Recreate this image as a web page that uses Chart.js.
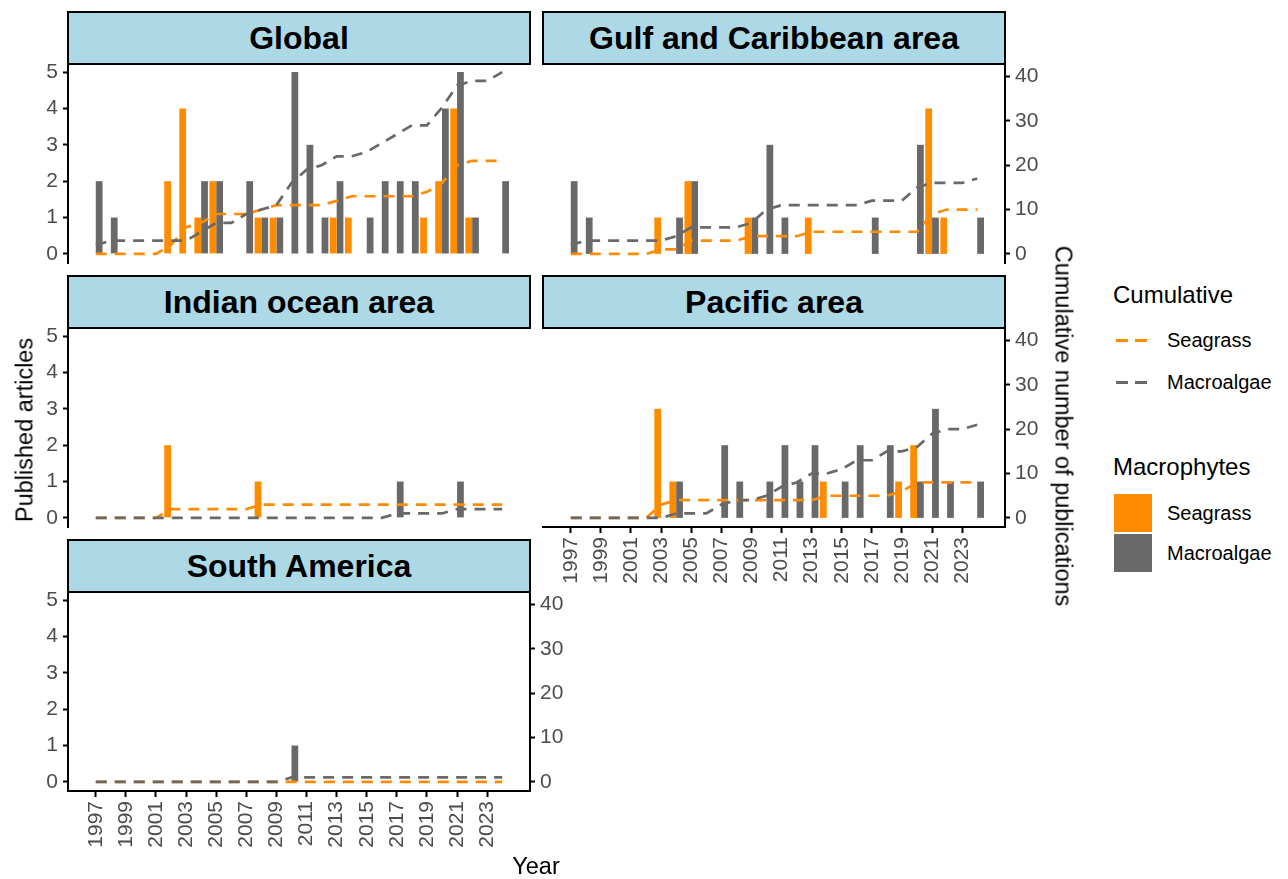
<!DOCTYPE html>
<html>
<head>
<meta charset="utf-8">
<script src="https://cdn.jsdelivr.net/npm/chart.js@4/dist/chart.umd.min.js"></script>
<style>
  body { margin: 0; background: #fff; font-family: 'Liberation Sans', Arial, sans-serif; }
  #page { position: relative; width: 1288px; height: 879px; overflow: hidden; }
  .strip { position: absolute; box-sizing: border-box; background: #ADD8E6; border: 2px solid #000;
           font-weight: bold; font-size: 32px; color: #000; display: flex; align-items: center; justify-content: center; }
  .panel { position: absolute; }
  .title { position: absolute; font-size: 23.5px; color: #000; white-space: nowrap; }
  .lgTitle { position: absolute; font-size: 24px; color: #000; white-space: nowrap; }
  .lgLabel { position: absolute; font-size: 20px; color: #000; white-space: nowrap; transform: translateY(-50%); }
  .dash { position: absolute; height: 2.5px; width: 12px; }
  .box { position: absolute; width: 38px; height: 38px; }
</style>
</head>
<body>
<div id="page"></div>
<script>
const years = [1997, 1998, 1999, 2000, 2001, 2002, 2003, 2004, 2005, 2006, 2007, 2008, 2009, 2010,
               2011, 2012, 2013, 2014, 2015, 2016, 2017, 2018, 2019, 2020, 2021, 2022, 2023, 2024];
const yearTicks = [1997, 1999, 2001, 2003, 2005, 2007, 2009, 2011, 2013, 2015, 2017, 2019, 2021, 2023];
const countTicks = [0, 1, 2, 3, 4, 5];
const cumTicks = [0, 10, 20, 30, 40];

// yearly article counts, 1997..2024
const globalSea = [0,0,0,0,0,2,4,1,2,0,0,1,1,0,0,0,1,1,0,0,0,0,1,2,4,1,0,0];
const globalMac = [2,1,0,0,0,0,0,2,2,0,2,1,1,5,3,1,2,0,1,2,2,2,0,4,5,1,0,2];
const gulfSea   = [0,0,0,0,0,0,1,0,2,0,0,0,1,0,0,0,1,0,0,0,0,0,0,0,4,1,0,0];
const gulfMac   = [2,1,0,0,0,0,0,1,2,0,0,0,1,3,1,0,0,0,0,0,1,0,0,3,1,0,0,1];
const indianSea = [0,0,0,0,0,2,0,0,0,0,0,1,0,0,0,0,0,0,0,0,0,0,0,0,0,0,0,0];
const indianMac = [0,0,0,0,0,0,0,0,0,0,0,0,0,0,0,0,0,0,0,0,1,0,0,0,1,0,0,0];
const pacificSea = [0,0,0,0,0,0,3,1,0,0,0,0,0,0,0,0,0,1,0,0,0,0,1,2,0,0,0,0];
const pacificMac = [0,0,0,0,0,0,0,1,0,0,2,1,0,1,2,1,2,0,1,2,0,2,0,1,3,1,0,1];
const samSea    = [0,0,0,0,0,0,0,0,0,0,0,0,0,0,0,0,0,0,0,0,0,0,0,0,0,0,0,0];
const samMac    = [0,0,0,0,0,0,0,0,0,0,0,0,0,1,0,0,0,0,0,0,0,0,0,0,0,0,0,0];

// cumulative number of publications, 1997..2024
const globalCumSea = [0,0,0,0,0,2,6,7,9,9,9,10,11,11,11,11,12,13,13,13,13,13,14,16,20,21,21,21];
const globalCumMac = [2,3,3,3,3,3,3,5,7,7,9,10,11,16,19,20,22,22,23,25,27,29,29,33,38,39,39,41];
const gulfCumSea   = [0,0,0,0,0,0,1,1,3,3,3,3,4,4,4,4,5,5,5,5,5,5,5,5,9,10,10,10];
const gulfCumMac   = [2,3,3,3,3,3,3,4,6,6,6,6,7,10,11,11,11,11,11,11,12,12,12,15,16,16,16,17];
const indianCumSea = [0,0,0,0,0,2,2,2,2,2,2,3,3,3,3,3,3,3,3,3,3,3,3,3,3,3,3,3];
const indianCumMac = [0,0,0,0,0,0,0,0,0,0,0,0,0,0,0,0,0,0,0,0,1,1,1,1,2,2,2,2];
const pacificCumSea = [0,0,0,0,0,0,3,4,4,4,4,4,4,4,4,4,4,5,5,5,5,5,6,8,8,8,8,8];
const pacificCumMac = [0,0,0,0,0,0,0,1,1,1,3,4,4,5,7,8,10,10,11,13,13,15,15,16,19,20,20,21];
const samCumSea    = [0,0,0,0,0,0,0,0,0,0,0,0,0,0,0,0,0,0,0,0,0,0,0,0,0,0,0,0];
const samCumMac    = [0,0,0,0,0,0,0,0,0,0,0,0,0,1,1,1,1,1,1,1,1,1,1,1,1,1,1,1];

const SEA = '#FF8C00';
const MAC = '#696969';
const FONT = "'Liberation Sans', Arial, sans-serif";
const TICK_GREY = '#4D4D4D';

Chart.defaults.font.family = FONT;
Chart.defaults.font.size = 21;

const page = document.getElementById('page');

function addDiv(cls, style, text) {
  const d = document.createElement('div');
  d.className = cls;
  Object.assign(d.style, style);
  if (text) d.textContent = text;
  page.appendChild(d);
  return d;
}

function pts(arr) {
  return years.map((yr, i) => ({ x: yr, y: arr[i] }));
}

// keep the plot area exactly where ggplot put it: no label padding
function noPad(s) {
  s.paddingTop = 0; s.paddingBottom = 0; s.paddingLeft = 0; s.paddingRight = 0;
}

function panel(name, left, top, sea, mac, cumSea, cumMac, showLeft, showRight, showBottom) {
  addDiv('strip', { left: (left - 1) + 'px', top: (top - 52) + 'px', width: '464px', height: '54px' }, name);

  const wrap = addDiv('panel', {
    left: (left - 60) + 'px', top: (top - 8) + 'px',
    width: '582px', height: (208 + (showBottom ? 85 : 8)) + 'px'
  });
  const cv = document.createElement('canvas');
  wrap.appendChild(cv);

  const tickFont = { family: FONT, size: 21 };

  new Chart(cv, {
    type: 'bar',
    data: {
      datasets: [
        { label: 'Seagrass', data: pts(sea), backgroundColor: SEA, yAxisID: 'y',
          barPercentage: 1, categoryPercentage: 0.9, order: 3 },
        { label: 'Macroalgae', data: pts(mac), backgroundColor: MAC, yAxisID: 'y',
          barPercentage: 1, categoryPercentage: 0.9, order: 3 },
        { type: 'line', label: 'Cumulative Seagrass', data: pts(cumSea), yAxisID: 'y1',
          borderColor: SEA, borderWidth: 2.7, borderDash: [11, 8], pointRadius: 0, tension: 0, order: 2 },
        { type: 'line', label: 'Cumulative Macroalgae', data: pts(cumMac), yAxisID: 'y1',
          borderColor: MAC, borderWidth: 2.7, borderDash: [11, 8], pointRadius: 0, tension: 0, order: 1 },
      ],
    },
    options: {
      responsive: true,
      maintainAspectRatio: false,
      animation: false,
      layout: { padding: { top: 8, left: 0, right: 0, bottom: 0 } },
      plugins: { legend: { display: false }, tooltip: { enabled: false } },
      scales: {
        x: {
          type: 'linear',
          offset: false,
          min: 1995.155,
          max: 2025.845,
          afterBuildTicks: (s) => { s.ticks = yearTicks.map(v => ({ value: v })); },
          afterFit: (s) => { s.height = showBottom ? 85 : 8; noPad(s); },
          border: { display: showBottom, color: '#000', width: 2 },
          grid: { display: showBottom, offset: false, drawOnChartArea: false, drawTicks: true,
                  tickLength: 6, tickWidth: 2, tickColor: '#000' },
          ticks: { display: showBottom, autoSkip: false, minRotation: 90, maxRotation: 90, padding: 4,
                   color: TICK_GREY, font: tickFont, callback: (v) => String(v) },
        },
        y: {
          type: 'linear',
          position: 'left',
          min: -0.25,
          max: 5.25,
          afterBuildTicks: (s) => { s.ticks = countTicks.map(v => ({ value: v })); },
          afterFit: (s) => { s.width = 60; noPad(s); },
          border: { display: showLeft, color: '#000', width: 2 },
          grid: { display: showLeft, drawOnChartArea: false, drawTicks: true, tickLength: 5, tickWidth: 2, tickColor: '#000' },
          ticks: { display: showLeft, padding: 5, color: TICK_GREY, font: tickFont },
        },
        y1: {
          type: 'linear',
          position: 'right',
          min: -2.05,
          max: 43.05,
          afterBuildTicks: (s) => { s.ticks = cumTicks.map(v => ({ value: v })); },
          afterFit: (s) => { s.width = 60; noPad(s); },
          border: { display: showRight, color: '#000', width: 2 },
          grid: { display: showRight, drawOnChartArea: false, drawTicks: true, tickLength: 5, tickWidth: 2, tickColor: '#000' },
          ticks: { display: showRight, padding: 5, color: TICK_GREY, font: tickFont },
        },
      },
    },
  });
}

panel('Global', 68, 63, globalSea, globalMac, globalCumSea, globalCumMac, true, false, false);
panel('Gulf and Caribbean area', 543, 63, gulfSea, gulfMac, gulfCumSea, gulfCumMac, false, true, false);
panel('Indian ocean area', 68, 327, indianSea, indianMac, indianCumSea, indianCumMac, true, false, false);
panel('Pacific area', 543, 327, pacificSea, pacificMac, pacificCumSea, pacificCumMac, false, true, true);
panel('South America', 68, 591, samSea, samMac, samCumSea, samCumMac, true, true, true);

// axis titles
addDiv('title', { left: '25px', top: '430px', transform: 'translate(-50%, -50%) rotate(-90deg)' }, 'Published articles');
addDiv('title', { left: '1063px', top: '426px', transform: 'translate(-50%, -50%) rotate(90deg)' }, 'Cumulative number of publications');
addDiv('title', { left: '536px', top: '866px', transform: 'translate(-50%, -50%)' }, 'Year');

// legend
addDiv('lgTitle', { left: '1113px', top: '281px' }, 'Cumulative');
addDiv('dash', { left: '1116px', top: '339px', background: SEA });
addDiv('dash', { left: '1135px', top: '339px', background: SEA });
addDiv('lgLabel', { left: '1167px', top: '340px' }, 'Seagrass');
addDiv('dash', { left: '1116px', top: '381px', background: MAC });
addDiv('dash', { left: '1135px', top: '381px', background: MAC });
addDiv('lgLabel', { left: '1167px', top: '382px' }, 'Macroalgae');

addDiv('lgTitle', { left: '1113px', top: '453px' }, 'Macrophytes');
addDiv('box', { left: '1114px', top: '494px', background: SEA });
addDiv('lgLabel', { left: '1167px', top: '513px' }, 'Seagrass');
addDiv('box', { left: '1114px', top: '534px', background: MAC });
addDiv('lgLabel', { left: '1167px', top: '553px' }, 'Macroalgae');
</script>
</body>
</html>
